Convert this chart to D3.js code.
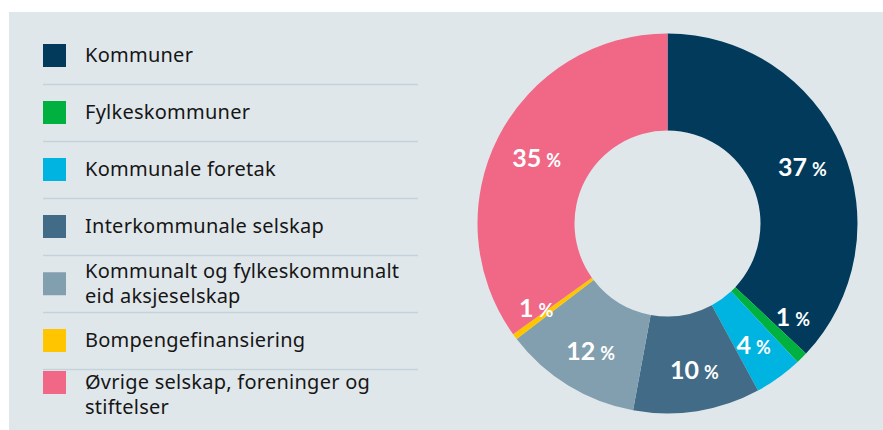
<!DOCTYPE html>
<html>
<head>
<meta charset="utf-8">
<script src="https://cdn.jsdelivr.net/npm/d3@7"></script>
<style>
  html, body { margin: 0; padding: 0; background: #ffffff; }
  svg { display: block; }
</style>
</head>
<body>
<svg id="chart" width="883" height="430"></svg>
<script>
// ---- data ----
const categories = [
  "Kommuner",
  "Fylkeskommuner",
  "Kommunale foretak",
  "Interkommunale selskap",
  "Kommunalt og fylkeskommunalt eid aksjeselskap",
  "Bompengefinansiering",
  "Øvrige selskap, foreninger og stiftelser"
];
const shares = [37.0, 1.0, 4.1, 10.8, 11.7, 0.5, 34.9];
const shareLabels = ["37", "1", "4", "10", "12", "1", "35"];

// ---- styles ----
const colors = ["#013a5b", "#00b140", "#00b4e1", "#416b86", "#829fb0", "#ffc600", "#f06886"];
const labelNudgeDeg = [0, -9, 0, -1.5, 0, 4.5, 0];

const svg = d3.select("#chart");
const W = 883, H = 430;

svg.append("rect")
  .attr("x", 9).attr("y", 12)
  .attr("width", W - 9).attr("height", H - 12)
  .attr("fill", "#e0e7eb");

// ---- legend ----
const rowTop = 27, rowH = 57, legX = 43, legRight = 418, textX = 85, sq = 23;
const legendFont = "'Noto Sans', 'DejaVu Sans', sans-serif";
const maxTextW = legRight - textX;

const legend = svg.append("g");
categories.forEach((name, i) => {
  const top = rowTop + rowH * i;
  if (i > 0) {
    legend.append("line")
      .attr("x1", legX).attr("x2", legRight)
      .attr("y1", top + 0.5).attr("y2", top + 0.5)
      .attr("stroke", "#c4d3da").attr("stroke-width", 1.6);
  }
  const t = legend.append("text")
    .attr("x", textX)
    .attr("font-family", legendFont)
    .attr("font-size", 20)
    .attr("letter-spacing", 0.25)
    .attr("fill", "#161616");
  const words = name.split(" ");
  let lines = [], cur = [];
  const probe = t.append("tspan");
  words.forEach(w => {
    const test = cur.concat([w]).join(" ");
    probe.text(test);
    if (probe.node().getComputedTextLength() > maxTextW && cur.length) {
      lines.push(cur.join(" "));
      cur = [w];
    } else {
      cur.push(w);
    }
  });
  lines.push(cur.join(" "));
  probe.remove();
  const lh = 24.5;
  const isLast = i === categories.length - 1;
  const firstBase = lines.length === 1 ? top + 35 : (isLast ? top + 20 : top + 23);
  lines.forEach((ln, k) => {
    t.append("tspan").attr("x", textX).attr("y", firstBase + k * lh).text(ln);
  });
  const blockCenter = lines.length === 1 || isLast
    ? firstBase - 7
    : firstBase - 7 + (lines.length - 1) * lh / 2;
  legend.append("rect")
    .attr("x", legX).attr("y", blockCenter - sq / 2 + 0.5)
    .attr("width", sq).attr("height", sq)
    .attr("fill", colors[i]);
});

// ---- donut ----
const cx = 667.5, cy = 223.5, rOuter = 190, rInner = 93;
const data = categories.map((c, i) => ({ name: c, value: shares[i], label: shareLabels[i], color: colors[i], i }));
const pie = d3.pie().sort(null).value(d => d.value).startAngle(0).endAngle(2 * Math.PI);
const arc = d3.arc().innerRadius(rInner).outerRadius(rOuter);
const arcs = pie(data);

const g = svg.append("g").attr("transform", `translate(${cx},${cy})`);
g.selectAll("path").data(arcs).join("path")
  .attr("d", arc)
  .attr("fill", d => d.data.color);

const labelFont = "Lato, 'Open Sans', sans-serif";
const lab = g.selectAll("text.lbl").data(arcs).join("text")
  .attr("class", "lbl")
  .attr("text-anchor", "middle")
  .attr("font-family", labelFont)
  .attr("font-weight", 700)
  .attr("fill", "#ffffff")
  .attr("transform", d => {
    const a = (d.startAngle + d.endAngle) / 2 + labelNudgeDeg[d.data.i] * Math.PI / 180;
    const r = d.data.value < 2 ? 155 : 147;
    const x = r * Math.sin(a), y = -r * Math.cos(a);
    return `translate(${x},${y + 11})`;
  });
lab.append("tspan").attr("font-size", 25).text(d => d.data.label);
lab.append("tspan").attr("font-size", 18).attr("dx", 5).text("%");
</script>
</body>
</html>
